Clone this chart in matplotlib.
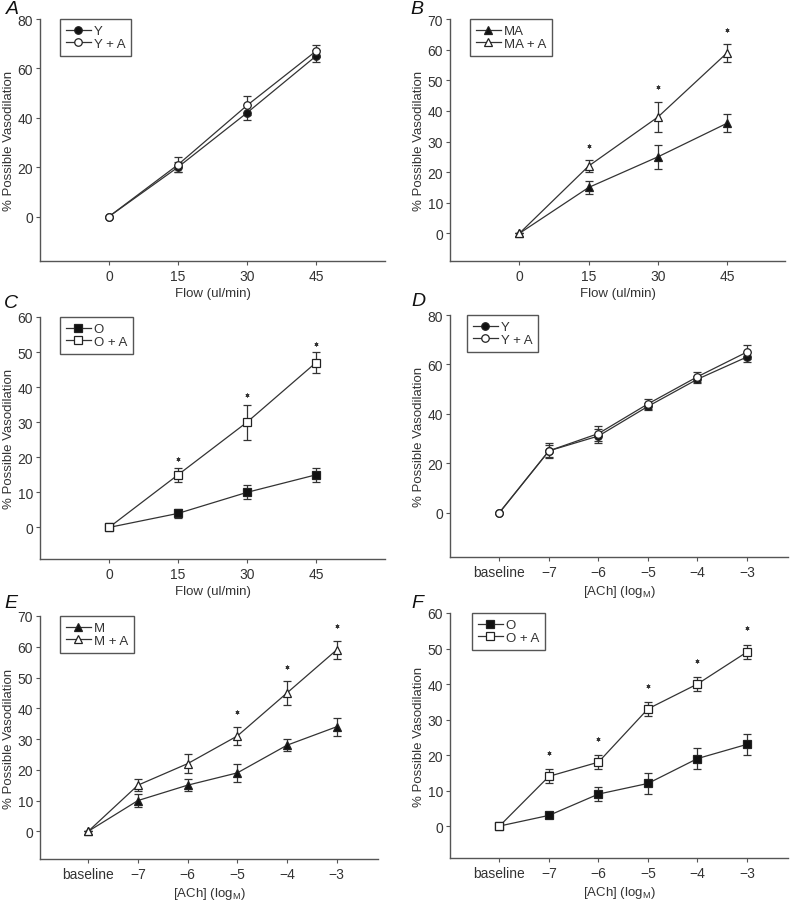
#!/usr/bin/env python3
"""
Vasodilation responses to flow and ACh, six panels (A-F).
"""

import matplotlib
matplotlib.use('Agg')
import matplotlib.pyplot as plt

plt.rcParams['font.family'] = ['Liberation Sans', 'DejaVu Sans']
plt.rcParams['mathtext.fontset'] = 'custom'
plt.rcParams['mathtext.rm'] = 'Liberation Sans'
plt.rcParams['mathtext.it'] = 'Liberation Sans:italic'

INK = '#333333'
AXC = '#555555'

# flow panels
flow_x = [0, 15, 30, 45]
flow_labels = ['0', '15', '30', '45']

a_y = [0, 20, 42, 65]
a_y_err = [0, 2, 3, 2.5]
a_ya = [0, 21, 45, 67]
a_ya_err = [0, 3, 4, 2.5]

b_ma = [0, 15, 25, 36]
b_ma_err = [0, 2.2, 4, 3]
b_maa = [0, 22, 38, 59]
b_maa_err = [0, 2, 5, 3]
b_star_x = [15, 30, 45]
b_star_y = [28.6, 47.7, 66.5]

c_o = [0, 4, 10, 15]
c_o_err = [0, 1.2, 2, 2]
c_oa = [0, 15, 30, 47]
c_oa_err = [0, 2, 5, 3]
c_star_x = [15, 30, 45]
c_star_y = [19.5, 37.8, 52.4]

# ACh panels
ach_x = [0, 1, 2, 3, 4, 5]
ach_labels = ['baseline', '\u22127', '\u22126', '\u22125', '\u22124', '\u22123']

d_y = [0, 25, 31, 43, 54, 63]
d_y_err = [0, 2.5, 3, 1.5, 1.5, 2]
d_ya = [0, 25, 32, 44, 55, 65]
d_ya_err = [0, 3, 3, 2, 2, 3]

e_m = [0, 10, 15, 19, 28, 34]
e_m_err = [0, 2, 2, 3, 2, 3]
e_ma = [0, 15, 22, 31, 45, 59]
e_ma_err = [0, 2, 3, 3, 4, 3]
e_star_x = [3, 4, 5]
e_star_y = [38.9, 53.4, 66.6]

f_o = [0, 3, 9, 12, 19, 23]
f_o_err = [0, 0.8, 2, 3, 3, 3]
f_oa = [0, 14, 18, 33, 40, 49]
f_oa_err = [0, 2, 2, 2, 2, 2]
f_star_x = [1, 2, 3, 4, 5]
f_star_y = [20.5, 24.6, 39.5, 46.4, 55.8]

FW, FH = 800, 903


def make_axes(fig, left, right, top, bottom):
    return fig.add_axes([left / FW, 1 - bottom / FH,
                         (right - left) / FW, (bottom - top) / FH])


def plot_panel(ax, x, series, xlim, ylim, yticks, xticks, xlabels, xlabel,
               stars=None, leg_dx=20):
    for (y, err, marker, fill, label) in series:
        ax.errorbar(x, y, yerr=err, fmt='none', ecolor=INK, elinewidth=0.9,
                    capsize=3, capthick=0.9, zorder=2)
        ax.plot(x, y, color=INK, lw=0.9, marker=marker, ms=5.4,
                mfc=fill, mec='#222222', mew=0.9, label=label, zorder=3)
    if stars:
        ax.plot(stars[0], stars[1], ls='none', marker=(6, 2, 0), ms=2.8,
                mec='#333333', mew=0.6)
    ax.set_xlim(*xlim)
    ax.set_ylim(*ylim)
    ax.set_yticks(yticks)
    ax.set_xticks(xticks)
    ax.set_xticklabels(xlabels)
    ax.spines['top'].set_visible(False)
    ax.spines['right'].set_visible(False)
    ax.spines['left'].set_bounds(ylim[0], yticks[-1])
    for s in ('left', 'bottom'):
        ax.spines[s].set_color(AXC)
        ax.spines[s].set_linewidth(1.0)
    ax.tick_params(colors=AXC, labelcolor=INK, labelsize=10, length=3,
                   width=0.8, pad=2)
    ax.tick_params(axis='x', pad=3)
    ax.set_xlabel(xlabel, fontsize=9.5, color=INK, labelpad=3)
    ax.set_ylabel('% Possible Vasodilation', fontsize=9.5, color=INK,
                  labelpad=2)
    w = ax.get_window_extent().width
    leg = ax.legend(loc='upper left', bbox_to_anchor=(leg_dx / w, 1.0),
                    borderaxespad=0, fontsize=9.5, frameon=True,
                    fancybox=False, framealpha=1, edgecolor=AXC,
                    handlelength=1.9, handletextpad=0.2, labelspacing=0.05,
                    borderpad=0.45)
    leg.get_frame().set_linewidth(1.0)
    for t in leg.get_texts():
        t.set_color(INK)


fig = plt.figure(figsize=(8, 9.03), dpi=100)

ax = make_axes(fig, 40, 385, 20, 262)
plot_panel(ax, flow_x,
           [(a_y, a_y_err, 'o', '#111111', 'Y'),
            (a_ya, a_ya_err, 'o', 'white', 'Y + A')],
           (-15, 60), (-18, 80), [0, 20, 40, 60, 80], flow_x, flow_labels,
           'Flow (ul/min)')

ax = make_axes(fig, 450, 785, 20, 262)
plot_panel(ax, flow_x,
           [(b_ma, b_ma_err, '^', '#111111', 'MA'),
            (b_maa, b_maa_err, '^', 'white', 'MA + A')],
           (-15, 57.5), (-9, 70), [0, 10, 20, 30, 40, 50, 60, 70], flow_x,
           flow_labels, 'Flow (ul/min)', stars=(b_star_x, b_star_y))

ax = make_axes(fig, 40, 385, 318, 560)
plot_panel(ax, flow_x,
           [(c_o, c_o_err, 's', '#111111', 'O'),
            (c_oa, c_oa_err, 's', 'white', 'O + A')],
           (-15, 60), (-9, 60), [0, 10, 20, 30, 40, 50, 60], flow_x,
           flow_labels, 'Flow (ul/min)', stars=(c_star_x, c_star_y))

ach_xlabel = '[ACh] (log$_\\mathregular{M}$)'

ax = make_axes(fig, 450, 788, 316, 558)
plot_panel(ax, ach_x,
           [(d_y, d_y_err, 'o', '#111111', 'Y'),
            (d_ya, d_ya_err, 'o', 'white', 'Y + A')],
           (-1, 5.83), (-18, 80), [0, 20, 40, 60, 80], ach_x, ach_labels,
           ach_xlabel, leg_dx=17)

ax = make_axes(fig, 40, 378, 617, 860)
plot_panel(ax, ach_x,
           [(e_m, e_m_err, '^', '#111111', 'M'),
            (e_ma, e_ma_err, '^', 'white', 'M + A')],
           (-0.97, 5.83), (-9, 70), [0, 10, 20, 30, 40, 50, 60, 70], ach_x,
           ach_labels, ach_xlabel, stars=(e_star_x, e_star_y))

ax = make_axes(fig, 450, 788, 614, 859)
plot_panel(ax, ach_x,
           [(f_o, f_o_err, 's', '#111111', 'O'),
            (f_oa, f_oa_err, 's', 'white', 'O + A')],
           (-1, 5.83), (-9, 60), [0, 10, 20, 30, 40, 50, 60], ach_x,
           ach_labels, ach_xlabel, stars=(f_star_x, f_star_y), leg_dx=22)

# panel letters
for letter, px, py in [('A', 6, 10), ('B', 410, 10), ('C', 4, 304),
                       ('D', 411, 302), ('E', 4, 604), ('F', 411, 604)]:
    fig.text(px / FW, 1 - py / FH, letter, fontsize=14, style='italic',
             color='#111111', va='center', ha='left')

fig.savefig('out.png', dpi=100)
